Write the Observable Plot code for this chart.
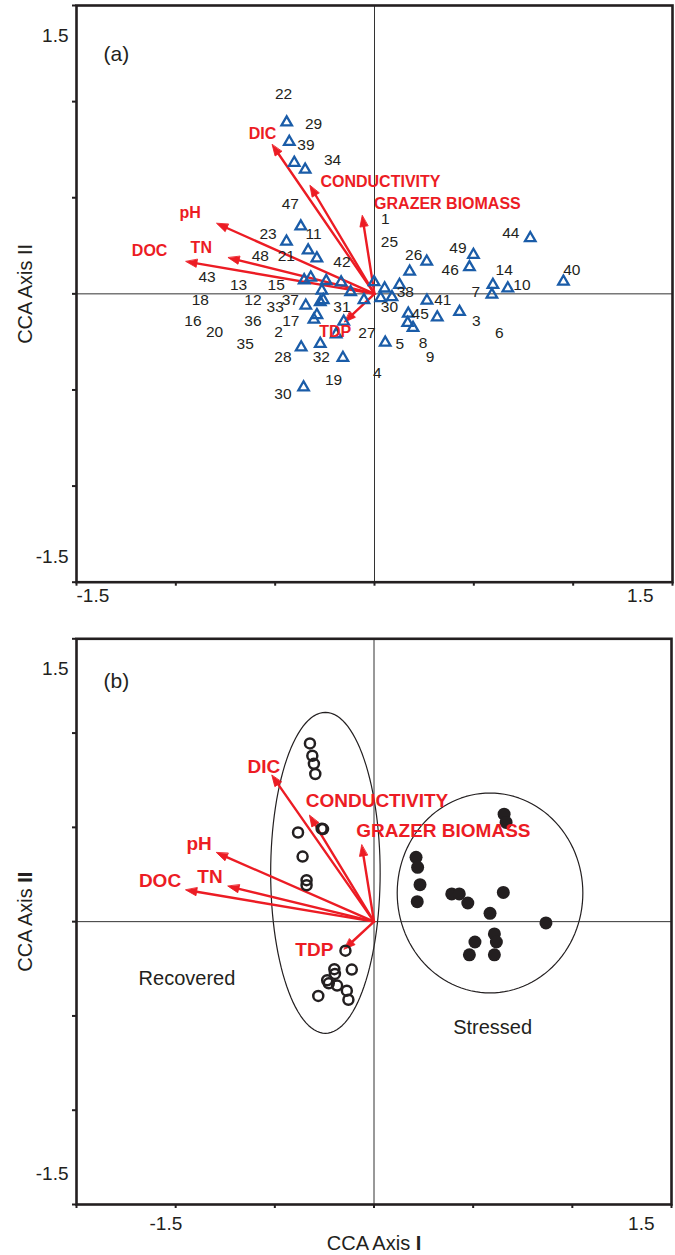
<!DOCTYPE html>
<html><head><meta charset="utf-8">
<script src="https://cdn.jsdelivr.net/npm/d3@7"></script>
<script src="https://cdn.jsdelivr.net/npm/@observablehq/plot@0.6"></script>
<style>
html,body{margin:0;padding:0;background:#fff;}
svg{display:block;}
</style></head><body><div id="chart"></div>
<script>
const FONT = '"Liberation Sans", Arial, Helvetica, sans-serif';
const RED = "#ec1c24";
const BLUE = "#1a5ca8";
const INK = "#231f20";

// axes
const axisTicks = [-1.5, -1, -0.5, 0, 0.5, 1, 1.5];
const tickLabelText = ["-1.5", "1.5"];
const yTitle = "CCA Axis II";
const xTitle = "CCA Axis I";
const panelTags = ["(a)", "(b)"];

// environmental biplot arrows (shared by both panels)
const envNames = ["DIC", "CONDUCTIVITY", "GRAZER BIOMASS", "pH", "TN", "DOC", "TDP"];
const envX = [-0.515, -0.325, -0.062, -0.794, -0.736, -0.949, -0.150];
const envY = [0.776, 0.563, 0.407, 0.366, 0.188, 0.168, -0.146];
const envLabelAX = [-0.564, 0.030, 0.367, -0.928, -0.872, -1.132, -0.198];
const envLabelAY = [0.833, 0.581, 0.469, 0.423, 0.240, 0.226, -0.200];
const envLabelBX = [-0.555, 0.015, 0.350, -0.882, -0.827, -1.079, -0.301];
const envLabelBY = [0.821, 0.641, 0.482, 0.412, 0.235, 0.217, -0.150];

// panel (a): species triangles
const triX = [-0.442,-0.429,-0.404,-0.349,-0.371,-0.443,-0.334,-0.290,0.177,0.263,0.498,0.478,0.784,0.596,0.671,0.591,0.951,-0.002,-0.354,-0.321,-0.243,-0.168,-0.265,-0.120,0.051,0.126,0.031,0.088,-0.258,-0.346,-0.273,-0.053,0.264,-0.290,-0.305,-0.155,0.170,0.316,0.428,0.167,0.194,-0.193,0.054,-0.369,-0.273,-0.159,-0.357];
const triY = [0.892,0.791,0.682,0.646,0.351,0.272,0.226,0.185,0.116,0.168,0.203,0.139,0.290,0.047,0.029,-0.004,0.064,0.061,0.071,0.085,0.067,0.060,0.017,0.009,0.028,0.047,-0.022,-0.017,-0.032,-0.061,-0.043,-0.032,-0.035,-0.110,-0.134,-0.144,-0.103,-0.122,-0.094,-0.151,-0.177,-0.210,-0.254,-0.278,-0.260,-0.333,-0.486];

// panel (a): site number labels
const siteLabels = ["22","29","39","34","47","1","23","11","25","48","21","26","42","44","49","46","14","40","43","13","15","10","18","12","37","38","7","41","33","31","30","45","16","36","17","3","20","2","27","6","35","5","8","28","32","9","4","19","30"];
const siteX = [-0.458,-0.307,-0.345,-0.211,-0.424,0.054,-0.536,-0.307,0.075,-0.575,-0.444,0.197,-0.164,0.686,0.420,0.381,0.653,0.993,-0.843,-0.684,-0.495,0.742,-0.877,-0.612,-0.424,0.155,0.510,0.344,-0.500,-0.164,0.075,0.230,-0.914,-0.612,-0.421,0.512,-0.805,-0.483,-0.038,0.628,-0.651,0.128,0.244,-0.461,-0.268,0.280,0.014,-0.206,-0.461];
const siteY = [1.038,0.885,0.772,0.694,0.465,0.391,0.313,0.309,0.272,0.196,0.196,0.202,0.165,0.316,0.238,0.125,0.125,0.125,0.090,0.047,0.047,0.048,-0.031,-0.031,-0.031,0.008,0.008,-0.030,-0.070,-0.070,-0.069,-0.104,-0.143,-0.143,-0.143,-0.143,-0.200,-0.200,-0.202,-0.203,-0.260,-0.259,-0.257,-0.330,-0.330,-0.330,-0.414,-0.448,-0.521];

// panel (b): samples
const recoveredX = [-0.323,-0.311,-0.303,-0.296,-0.264,-0.257,-0.383,-0.360,-0.340,-0.340,-0.144,-0.200,-0.112,-0.197,-0.236,-0.228,-0.186,-0.137,-0.281,-0.129];
const recoveredY = [0.945,0.880,0.837,0.783,0.493,0.491,0.473,0.345,0.220,0.193,-0.154,-0.252,-0.254,-0.277,-0.311,-0.327,-0.339,-0.366,-0.394,-0.414];
const stressedX = [0.656,0.666,0.212,0.220,0.232,0.218,0.392,0.430,0.473,0.652,0.585,0.867,0.607,0.617,0.509,0.481,0.607];
const stressedY = [0.570,0.526,0.341,0.288,0.196,0.106,0.147,0.147,0.099,0.155,0.044,-0.007,-0.065,-0.108,-0.108,-0.176,-0.176];

// panel (b): group ellipses and names
const groupNames = ["Recovered", "Stressed"];
const groupCX = [-0.245, 0.585];
const groupCY = [0.259, 0.152];
const groupRX = [0.276, 0.468];
const groupRY = [0.851, 0.530];
const groupLabelX = [-0.943, 0.598];
const groupLabelY = [-0.303, -0.560];

const arrows = envNames.map((name, i) => ({name, x: envX[i], y: envY[i]}));
const labelsA = envNames.map((name, i) => ({name, x: envLabelAX[i], y: envLabelAY[i]}));
const labelsB = envNames.map((name, i) => ({name, x: envLabelBX[i], y: envLabelBY[i]}));
const triangles = triX.map((x, i) => ({x, y: triY[i]}));
const sites = siteLabels.map((t, i) => ({t, x: siteX[i], y: siteY[i]}));
const recovered = recoveredX.map((x, i) => ({x, y: recoveredY[i]}));
const stressed = stressedX.map((x, i) => ({x, y: stressedY[i]}));
const angles = d3.range(0, 361, 3).map(a => a * Math.PI / 180);
const ellipses = groupNames.flatMap((g, i) => angles.map(a => ({g, x: groupCX[i] + groupRX[i] * Math.cos(a), y: groupCY[i] + groupRY[i] * Math.sin(a)})));
const groupLabels = groupNames.map((g, i) => ({g, x: groupLabelX[i], y: groupLabelY[i]}));

const headShape = {
  draw(context, l) {
    context.moveTo(0, -l);
    context.lineTo(-4, -l + 11);
    context.lineTo(4, -l + 11);
    context.closePath();
  }
};

function panel(opts) {
  const {height, marginTop, marginBottom, marginRight, marginLeft = 76, labels, labelSize, marks, xl, yl, tag, tagDy} = opts;
  const kx = (675 - marginLeft - marginRight) / 3;
  const ky = (height - marginTop - marginBottom) / 3;
  const T = {fill: INK, lineAnchor: "middle"};
  return Plot.plot({
    width: 675, height, marginLeft, marginRight, marginTop, marginBottom,
    x: {domain: [-1.5, 1.5]},
    y: {domain: [-1.5, 1.5]},
    style: {fontFamily: FONT, background: "white", overflow: "visible", color: INK},
    marks: [
      ...(opts.under || []),
      Plot.ruleX([0], {stroke: "#333", strokeWidth: 1}),
      Plot.ruleY([0], {stroke: "#333", strokeWidth: 1}),
      Plot.arrow(arrows, {x1: 0, y1: 0, x2: "x", y2: "y", headLength: 0, insetEnd: 8, stroke: RED, strokeWidth: 2.4}),
      Plot.vector(arrows, {x: "x", y: "y", length: 11, anchor: "end", shape: headShape,
        rotate: d => Math.atan2(d.x * kx, d.y * ky) * 180 / Math.PI, fill: RED, stroke: RED, strokeWidth: 0.8}),
      ...marks,
      Plot.text(labels, {x: "x", y: "y", text: "name", fill: RED, fontWeight: "bold", fontSize: labelSize}),
      Plot.frame({stroke: INK, strokeWidth: 2.6}),
      Plot.axisX(axisTicks, {tickSize: 4, tickFormat: () => "", strokeWidth: 2, label: null}),
      Plot.axisY(axisTicks, {tickSize: 4, tickFormat: () => "", strokeWidth: 2, label: null}),
      Plot.text([tickLabelText[0]], {...T, x: -1.5, frameAnchor: "bottom", textAnchor: "start", dx: xl[0], dy: xl[1], fontSize: 19}),
      Plot.text([tickLabelText[1]], {...T, x: 1.5, frameAnchor: "bottom", textAnchor: "end", dx: xl[2], dy: xl[1], fontSize: 19}),
      Plot.text([tickLabelText[1]], {...T, y: 1.5, frameAnchor: "left", textAnchor: "end", dx: -8, dy: yl[0], fontSize: 19}),
      Plot.text([tickLabelText[0]], {...T, y: -1.5, frameAnchor: "left", textAnchor: "end", dx: -8, dy: yl[1], fontSize: 19}),
      Plot.text([yTitle], {...T, frameAnchor: "left", textAnchor: "middle", rotate: -90, dx: -51, fontSize: 20}),
      Plot.text([tag], {...T, frameAnchor: "top-left", textAnchor: "start", dx: 27, dy: tagDy, fontSize: 21}),
      ...(opts.extra || [])
    ]
  });
}

const chartA = panel({
  height: 612, marginTop: 5, marginBottom: 30.3, marginRight: 3,
  labels: labelsA, labelSize: 16, xl: [0, 14, -19], yl: [30, -25], tag: panelTags[0], tagDy: 49,
  marks: [
    Plot.dot(triangles, {x: "x", y: "y", symbol: "triangle", r: 3.9, stroke: BLUE, strokeWidth: 2.3, fill: "none"}),
    Plot.text(sites, {x: "x", y: "y", text: "t", fontSize: 15.5, fill: INK})
  ]
});

const chartB = panel({
  height: 643, marginTop: 26.3, marginBottom: 51, marginRight: 4,
  labels: labelsB, labelSize: 19, xl: [73, 19, -17], yl: [30, -31], tag: panelTags[1], tagDy: 42,
  under: [Plot.line(ellipses, {x: "x", y: "y", z: "g", stroke: INK, strokeWidth: 1.2})],
  marks: [
    Plot.dot(recovered, {x: "x", y: "y", r: 5, stroke: INK, strokeWidth: 2.5, fill: "none"}),
    Plot.dot(stressed, {x: "x", y: "y", r: 6.5, fill: INK, stroke: "none"}),
    Plot.text(groupLabels, {x: "x", y: "y", text: "g", fontSize: 20, fill: INK})
  ],
  extra: [Plot.text([xTitle], {fill: INK, lineAnchor: "middle", frameAnchor: "bottom", dy: 39, fontSize: 20})]
});

const root = document.getElementById("chart");
root.append(chartA, chartB);

// bold roman numerals in panel (b) axis titles
chartB.querySelectorAll("text").forEach(t => {
  const s = t.textContent;
  if (s === yTitle) t.innerHTML = 'CCA Axis <tspan font-weight="bold">II</tspan>';
  else if (s === xTitle) t.innerHTML = 'CCA Axis <tspan font-weight="bold">I</tspan>';
});
</script></body></html>
